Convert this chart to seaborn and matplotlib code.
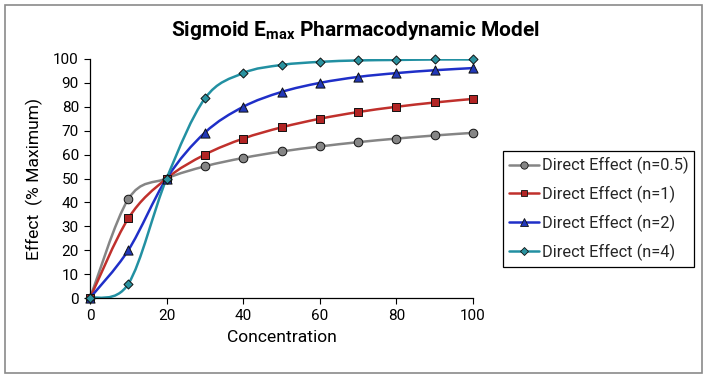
import numpy as np
import pandas as pd
import matplotlib
matplotlib.use("Agg")
import matplotlib.pyplot as plt
from matplotlib.path import Path
from matplotlib.patches import PathPatch, Rectangle
from matplotlib.lines import Line2D
import seaborn as sns

# ---- data ----
concentration = [0, 10, 20, 30, 40, 50, 60, 70, 80, 90, 100]
effect_n05 = [0, 41.4, 50, 55.1, 58.6, 61.3, 63.4, 65.2, 66.7, 68.0, 69.1]
effect_n1 = [0, 33.3, 50, 60.0, 66.7, 71.4, 75.0, 77.8, 80.0, 81.8, 83.3]
effect_n2 = [0, 20.0, 50, 69.2, 80.0, 86.2, 90.0, 92.5, 94.1, 95.3, 96.2]
effect_n4 = [0, 5.9, 50, 83.5, 94.1, 97.5, 98.8, 99.4, 99.6, 99.8, 99.8]
series_labels = ["Direct Effect (n=0.5)", "Direct Effect (n=1)",
                 "Direct Effect (n=2)", "Direct Effect (n=4)"]
x_ticks = [0, 20, 40, 60, 80, 100]
y_ticks = [0, 10, 20, 30, 40, 50, 60, 70, 80, 90, 100]

series_values = [effect_n05, effect_n1, effect_n2, effect_n4]
df = pd.concat([
    pd.DataFrame({"Concentration": concentration, "Effect": vals, "Series": lab})
    for lab, vals in zip(series_labels, series_values)
], ignore_index=True)

line_colors = ["#858585", "#C0302C", "#1F2FC8", "#2290A2"]
marker_faces = ["#858585", "#B22424", "#2238B8", "#2A929F"]
markers = ["o", "s", "^", "D"]
marker_sizes = [6.2, 5.8, 6.6, 4.6]

sns.set_theme(style="white")
plt.rcParams["font.family"] = ["Roboto", "DejaVu Sans"]
plt.rcParams["mathtext.fontset"] = "custom"
plt.rcParams["mathtext.rm"] = "Roboto"
plt.rcParams["mathtext.bf"] = "Roboto:bold"

fig = plt.figure(figsize=(7.08, 3.76), dpi=100)
ax = fig.add_axes([90 / 708, 1 - 298 / 376, 383 / 708, 239 / 376])


def smooth_path(xs, ys):
    pts = np.column_stack([xs, ys]).astype(float)
    n = len(pts)
    verts = [pts[0]]
    codes = [Path.MOVETO]
    for i in range(n - 1):
        p0 = pts[i - 1] if i > 0 else pts[i]
        p1 = pts[i]
        p2 = pts[i + 1]
        p3 = pts[i + 2] if i + 2 < n else pts[i + 1]
        c1 = p1 + (p2 - p0) / 6.0
        c2 = p2 - (p3 - p1) / 6.0
        verts += [c1, c2, p2]
        codes += [Path.CURVE4] * 3
    return Path(verts, codes)


for lab, col in zip(series_labels, line_colors):
    sub = df[df["Series"] == lab]
    patch = PathPatch(smooth_path(sub["Concentration"].values, sub["Effect"].values),
                      fill=False, edgecolor=col, lw=1.8, zorder=2, capstyle="round")
    ax.add_patch(patch)

for lab, fc, mk, ms in zip(series_labels, marker_faces, markers, marker_sizes):
    sub = df[df["Series"] == lab]
    sns.scatterplot(data=sub, x="Concentration", y="Effect", ax=ax, marker=mk,
                    s=ms ** 2, color=fc, edgecolor="#111111", linewidth=0.7,
                    zorder=3, clip_on=False, legend=False)

ax.set_xlim(0, 100)
ax.set_ylim(0, 100)
ax.set_xticks(x_ticks)
ax.set_yticks(y_ticks)
ax.tick_params(axis="both", direction="out", length=4, width=0.8, color="black",
               labelsize=11, labelcolor="black", pad=4, bottom=True, left=True)
for s in ["top", "right"]:
    ax.spines[s].set_visible(False)
for s in ["left", "bottom"]:
    ax.spines[s].set_color("black")
    ax.spines[s].set_linewidth(0.9)
ax.set_facecolor("white")

ax.set_xlabel("Concentration", fontsize=12.6, color="black", labelpad=5)
ax.set_ylabel("Effect  (% Maximum)", fontsize=12.6, color="black", labelpad=7)

fig.text(355 / 708, 1 - 30 / 376,
         r"Sigmoid E$_{\mathregular{max}}$ Pharmacodynamic Model",
         ha="center", va="center", fontsize=15, fontweight="bold", color="black")

handles = [Line2D([0], [0], color=lc, lw=1.8, marker=mk, markerfacecolor=fc,
                  markeredgecolor="#111111", markeredgewidth=0.6, markersize=ms * 0.85)
           for lc, fc, mk, ms in zip(line_colors, marker_faces, markers, marker_sizes)]
leg = fig.legend(handles, series_labels, loc="upper left",
                 bbox_to_anchor=(503 / 708, 1 - 151 / 376), fontsize=11.8,
                 frameon=True, fancybox=False, edgecolor="black", framealpha=1,
                 handlelength=1.85, handletextpad=0.15, borderpad=0.36,
                 labelspacing=0.71, borderaxespad=0)
leg.get_frame().set_linewidth(0.9)

fig.patches.append(Rectangle((4.5 / 708, 3.5 / 376), 697 / 708, 368 / 376,
                             transform=fig.transFigure, fill=False,
                             edgecolor="#8a8a8a", lw=1.2))

fig.savefig("out.png", dpi=100, facecolor="white")
